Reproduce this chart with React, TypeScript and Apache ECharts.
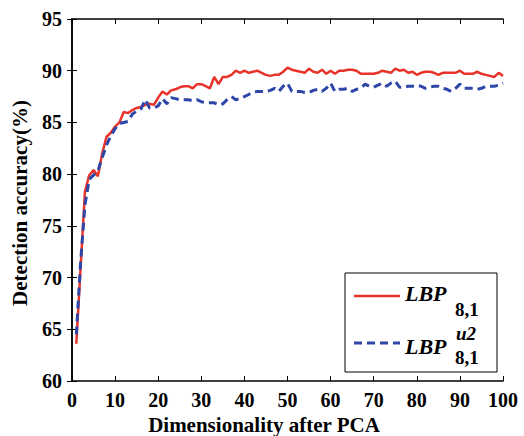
import React, { useEffect, useRef } from "react";
import * as echarts from "echarts";

const dims: number[] = Array.from({ length: 100 }, (_, i) => i + 1);

const lbpValues: number[] = [
  63.6, 71.0, 78.3, 79.9, 80.4, 79.8, 82.0, 83.6, 84.0, 84.6,
  85.0, 86.0, 85.9, 86.2, 86.4, 86.5, 86.7, 86.8, 86.7, 87.4,
  88.0, 87.7, 88.1, 88.2, 88.4, 88.5, 88.5, 88.3, 88.7, 88.7,
  88.5, 88.3, 89.4, 88.7, 89.4, 89.4, 89.6, 90.0, 89.8, 90.0,
  89.8, 89.9, 90.0, 89.8, 89.6, 89.5, 89.6, 89.6, 89.9, 90.3,
  90.1, 90.0, 89.9, 89.8, 90.2, 89.9, 89.8, 90.1, 89.7, 90.0,
  89.7, 90.0, 90.0, 90.1, 90.1, 90.0, 89.7, 89.7, 89.7, 89.7,
  89.8, 90.0, 89.9, 89.8, 90.2, 90.0, 90.1, 89.8, 89.9, 89.6,
  89.8, 89.9, 89.9, 89.8, 89.6, 89.8, 89.8, 89.8, 89.8, 90.0,
  89.7, 89.7, 89.7, 89.9, 89.7, 89.6, 89.5, 89.4, 89.8, 89.5,
];

const lbpU2Values: number[] = [
  64.5, 71.5, 77.0, 79.5, 79.9, 80.3, 81.6, 82.8, 83.7, 84.4,
  84.9, 85.0, 85.1, 85.8, 86.1, 86.3, 87.2, 86.4, 86.4, 86.6,
  87.3, 86.8, 87.4, 87.3, 87.2, 87.2, 87.2, 87.1, 87.2, 87.0,
  86.9, 86.9, 86.9, 86.7, 86.8, 87.2, 87.5, 87.2, 87.3, 87.5,
  87.7, 87.9, 88.0, 88.0, 88.0, 88.1, 88.3, 88.0, 88.5, 88.8,
  88.0, 88.0, 88.0, 87.9, 87.9, 88.1, 88.2, 88.0, 88.3, 88.8,
  88.0, 88.2, 88.2, 88.3, 88.0, 88.2, 88.3, 88.7, 88.5, 88.4,
  88.6, 88.8, 88.5, 88.8, 89.0, 88.4, 88.4, 88.5, 88.5, 88.6,
  88.5, 88.3, 88.4, 88.5, 88.5, 88.3, 88.2, 88.0, 88.3, 88.7,
  88.3, 88.3, 88.3, 88.2, 88.3, 88.5, 88.5, 88.5, 88.6, 88.8,
];

const RED = "#e8332a";
const BLUE = "#2d46a8";
const FONT = "'Liberation Serif', 'Times New Roman', serif";

export default function App() {
  const ref = useRef<HTMLDivElement>(null);
  useEffect(() => {
    if (!ref.current) return;
    const chart = echarts.init(ref.current, null, { renderer: "svg" });
    const axisLine = { show: true, lineStyle: { color: "#000", width: 1.5 } };
    const tick = { show: true, inside: true, length: 5, lineStyle: { color: "#000", width: 1 } };
    const label = { color: "#000", fontFamily: FONT, fontWeight: "bold" as const, fontSize: 20 };
    chart.setOption({
      animation: false,
      backgroundColor: "#fff",
      grid: { left: 72, right: 21, top: 19, bottom: 55 },
      xAxis: [
        {
          type: "value", min: 0, max: 100, interval: 10,
          axisLine, axisTick: tick, splitLine: { show: false },
          axisLabel: { ...label, margin: 9 },
        },
        {
          type: "value", position: "top", min: 0, max: 100, interval: 10,
          axisLine, axisTick: tick, splitLine: { show: false },
          axisLabel: { show: false },
        },
      ],
      yAxis: [
        {
          type: "value", min: 60, max: 95, interval: 5,
          axisLine, axisTick: tick, splitLine: { show: false },
          axisLabel: { ...label, margin: 10 },
        },
        {
          type: "value", position: "right", min: 60, max: 95, interval: 5,
          axisLine, axisTick: tick, splitLine: { show: false },
          axisLabel: { show: false },
        },
      ],
      series: [
        {
          name: "LBP 8,1",
          type: "line",
          data: dims.map((d, i) => [d, lbpValues[i]]),
          showSymbol: false,
          lineStyle: { color: RED, width: 2.5 },
          itemStyle: { color: RED },
        },
        {
          name: "LBP u2 8,1",
          type: "line",
          data: dims.map((d, i) => [d, lbpU2Values[i]]),
          showSymbol: false,
          lineStyle: { color: BLUE, width: 3, type: [8, 5] },
          itemStyle: { color: BLUE },
        },
      ],
      graphic: [
        {
          type: "text", x: 264, y: 425,
          style: { text: "Dimensionality after PCA", font: `bold 21px ${FONT}`, fill: "#000", align: "center", verticalAlign: "middle" },
        },
        {
          type: "text", x: 20, y: 203, rotation: Math.PI / 2,
          style: { text: "Detection accuracy(%)", font: `bold 21px ${FONT}`, fill: "#000", align: "center", verticalAlign: "middle" },
        },
        {
          type: "rect", shape: { x: 345, y: 273, width: 152, height: 99 },
          style: { fill: "#fff", stroke: "#000", lineWidth: 1 }, z: 100,
        },
        {
          type: "line", shape: { x1: 354, y1: 296, x2: 400, y2: 296 },
          style: { stroke: RED, lineWidth: 2.5 }, z: 101,
        },
        {
          type: "line", shape: { x1: 354, y1: 343, x2: 400, y2: 343 },
          style: { stroke: BLUE, lineWidth: 3, lineDash: [8, 5] }, z: 101,
        },
        {
          type: "text", x: 405, y: 293, z: 101,
          style: { text: "LBP", font: `italic bold 22px ${FONT}`, fill: "#000", verticalAlign: "middle" },
        },
        {
          type: "text", x: 455, y: 309, z: 101,
          style: { text: "8,1", font: `bold 19px ${FONT}`, fill: "#000", verticalAlign: "middle" },
        },
        {
          type: "text", x: 405, y: 346, z: 101,
          style: { text: "LBP", font: `italic bold 22px ${FONT}`, fill: "#000", verticalAlign: "middle" },
        },
        {
          type: "text", x: 456, y: 333, z: 101,
          style: { text: "u2", font: `italic bold 19px ${FONT}`, fill: "#000", verticalAlign: "middle" },
        },
        {
          type: "text", x: 455, y: 357, z: 101,
          style: { text: "8,1", font: `bold 19px ${FONT}`, fill: "#000", verticalAlign: "middle" },
        },
      ],
    });
    return () => chart.dispose();
  }, []);
  return <div ref={ref} style={{ width: 524, height: 436, position: "absolute", left: 0, top: 0 }} />;
}
